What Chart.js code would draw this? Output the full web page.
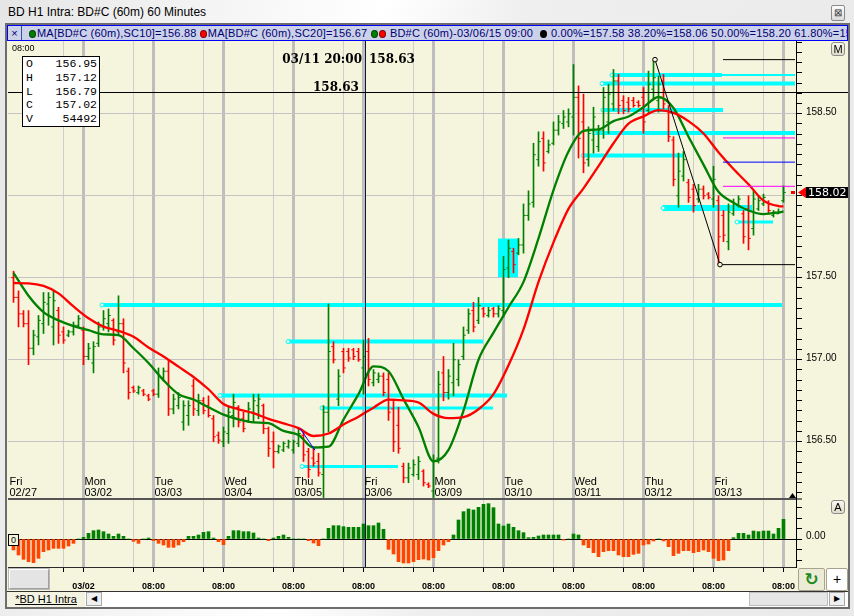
<!DOCTYPE html>
<html><head><meta charset="utf-8">
<script src="https://cdn.jsdelivr.net/npm/chart.js@4.4.1/dist/chart.umd.min.js"></script>
<style>
html,body{margin:0;padding:0}
body{width:854px;height:616px;overflow:hidden;position:relative;font-family:"Liberation Sans",Arial,sans-serif;
 background:linear-gradient(100deg,#e6e6e6 0%,#f6f6f6 25%,#ffffff 40%,#efefef 55%,#e9e9e9 100%)}
.abs{position:absolute}
#title{left:8px;top:5px;font-size:12px;color:#000;white-space:nowrap}
#close{left:831px;top:5px;width:12px;height:14px;border:1px solid #8a8a8a;border-radius:2px;background:linear-gradient(#fdfdfd,#dcdcdc);font-size:10px;line-height:14px;text-align:center;color:#333}
#frame{left:5px;top:23px;width:845px;height:586px;box-sizing:border-box;border:2px solid #6d6d6d;background:#f5f4dc}
#legend{left:7px;top:25px;width:841px;height:16px;box-sizing:border-box;border:1px solid #0000ff;background:#ccd1ea;
 font-size:11px;line-height:14px;color:#000070;white-space:nowrap;overflow:hidden;letter-spacing:0.2px}
#lx{display:inline-block;width:13px;text-align:center;border-right:1px solid #4050a0;margin-right:7px;color:#000070}
.dot{display:inline-block;width:7px;height:8px;border-radius:50%;vertical-align:-1px;margin-right:1px;box-sizing:border-box;border:1px solid rgba(0,0,0,0.5)}
.g{background:#008000}.r{background:#ff0000}.k{background:#000}
#c{left:8px;top:41px;background:#f5f4dc}
#tl{left:12px;top:43px;font-size:9px;color:#000}
#ohlc{left:22px;top:56px;width:78px;height:71px;box-sizing:border-box;border:1px solid #000;background:#fff;padding:0 2px 0 3px;
 font-family:"Liberation Mono",monospace;font-size:11.5px;line-height:13.8px;color:#000}
#ohlc div{display:flex;justify-content:space-between}
.big{font-family:"DejaVu Serif",serif;font-weight:bold;font-size:12px;color:#000;white-space:nowrap;line-height:14px}
.btn{width:12px;height:12px;border:1px solid #8c8c8c;border-radius:3px;background:linear-gradient(#faf9f0,#dedbc8);font-size:11px;line-height:12px;text-align:center;color:#000}
#zero{left:8px;top:534px;width:9px;height:10px;border:1px solid #000;font-size:9px;line-height:10px;text-align:center;background:#f5f4dc}
#lbox{left:9px;top:569px;width:40px;height:20px;box-sizing:border-box;border:1px solid #a0a0a0;border-top-color:#fff;border-left-color:#fff;background:#e4e4e4;outline:1px solid #b8b8b8}
#refresh{left:798px;top:568px;width:27px;height:23px;box-sizing:border-box;border:1px solid #a7a38c;border-radius:2px;background:#ecebd6;color:#1a8a1a;font-size:17px;line-height:21px;text-align:center;font-family:"DejaVu Sans",sans-serif;font-weight:bold}
#plus{left:826px;top:568px;width:22px;height:23px;box-sizing:border-box;border:1px solid #a7a38c;border-radius:2px;background:#fff;font-size:14px;line-height:21px;text-align:center}
#tabs{left:7px;top:591px;width:841px;height:16px;box-sizing:border-box;border-top:1px solid #333;background:#fff}
#tab{left:0px;top:0px;width:78px;height:15px;background:#f4f3e2;font-size:11px;line-height:15px;text-align:center;text-decoration:underline;color:#000}
.sb{top:0px;width:16px;height:14px;box-sizing:border-box;border:1px solid #a8a8a8;background:#f0f0f0;font-size:8px;line-height:12px;text-align:center;color:#000;font-family:"DejaVu Sans",sans-serif}
#thumb{left:742px;top:0px;width:79px;height:14px;box-sizing:border-box;border:1px solid #bdbdbd;background:#e6e6e6}
</style></head>
<body>
<div id="title" class="abs">BD H1 Intra: BD#C (60m) 60 Minutes</div>
<div id="close" class="abs">⊠</div>
<div id="frame" class="abs"></div>
<div id="legend" class="abs"><span id="lx">×</span><span class="dot g"></span>MA[BD#C (60m),SC10]=156.88 <span class="dot r"></span>MA[BD#C (60m),SC20]=156.67 <span class="dot g"></span><span class="dot r"></span> BD#C (60m)-03/06/15 09:00 &nbsp;<span class="dot k"></span> 0.00%=157.58 38.20%=158.06 50.00%=158.20 61.80%=158.35 100.00%=158.83</div>
<canvas id="c" class="abs" width="840" height="551"></canvas>
<div id="tl" class="abs">08:00</div>
<div id="ohlc" class="abs"><div><span>O</span><span>156.95</span></div><div><span>H</span><span>157.12</span></div><div><span>L</span><span>156.79</span></div><div><span>C</span><span>157.02</span></div><div><span>V</span><span>54492</span></div></div>
<div class="abs big" style="right:492px;top:52px">03/11 20:00</div>
<div class="abs big" style="left:369px;top:52px">158.63</div>
<div class="abs big" style="left:313px;top:80px">158.63</div>
<div class="abs btn" style="left:831px;top:42px">M</div>
<div class="abs btn" style="left:831px;top:500px">A</div>
<div id="zero" class="abs">0</div>
<div id="lbox" class="abs"></div>
<div id="refresh" class="abs">↻</div>
<div id="plus" class="abs">+</div>
<div id="tabs" class="abs">
  <div id="tab" class="abs">*BD H1 Intra</div>
  <div class="abs sb" style="left:79px">◀</div>
  <div id="thumb" class="abs"></div>
  <div class="abs sb" style="left:822px">▶</div>
</div>
<script>
// ---------- DATA ----------
const opens = [
157.50,157.38,157.28,157.22,157.07,157.14,157.22,157.34,157.20,157.30,
157.17,157.15,157.17,157.21,157.18,157.02,156.98,157.10,157.20,157.22,
157.24,157.17,157.22,156.93,156.83,156.80,156.81,156.78,156.81,156.79,
156.89,156.93,156.70,156.72,156.62,156.66,156.84,156.69,156.75,156.72,
156.64,156.54,156.50,156.55,156.66,156.71,156.64,156.63,156.68,156.72,
156.72,156.58,156.50,156.44,156.45,156.47,156.45,156.49,156.54,156.44,
156.40,156.38,156.30,156.68,157.08,156.76,157.05,157.05,157.06,157.05,
156.95,157.05,156.86,156.88,156.90,156.88,156.70,156.60,156.35,156.28,
156.30,156.30,156.32,156.24,156.20,156.40,156.92,156.80,156.86,156.88,
157.02,157.18,157.30,157.24,157.31,157.27,157.31,157.28,157.30,157.56,
157.66,157.65,157.70,157.88,157.96,158.22,158.35,158.27,158.32,158.40,
158.44,158.45,158.48,158.60,158.45,158.22,158.34,158.30,158.40,158.45,
158.56,158.70,158.58,158.57,158.58,158.57,158.60,158.52,158.65,158.58,
158.70,158.52,158.34,158.00,158.12,158.08,158.04,157.98,158.04,158.01,
157.98,157.97,157.88,157.72,157.89,157.94,157.89,157.92,157.80,157.92,
157.95,157.96,157.88,157.89,157.97];
const highs = [
157.54,157.42,157.30,157.30,157.18,157.27,157.41,157.41,157.42,157.32,
157.20,157.18,157.23,157.27,157.20,157.10,157.11,157.23,157.30,157.31,
157.25,157.39,157.25,156.95,156.84,156.84,156.82,156.79,156.82,156.95,
156.95,157.00,156.79,156.80,156.75,156.75,156.88,156.79,156.77,156.78,
156.66,156.56,156.59,156.72,156.79,156.72,156.68,156.74,156.79,156.79,
156.73,156.59,156.56,156.48,156.50,156.51,156.51,156.58,156.56,156.46,
156.46,156.43,156.72,157.34,157.11,156.94,157.07,157.07,157.07,157.07,
157.12,157.13,156.94,156.92,156.92,156.92,156.76,156.71,156.37,156.37,
156.39,156.41,156.33,156.25,156.42,156.93,157.02,156.94,157.10,157.00,
157.20,157.31,157.35,157.38,157.32,157.32,157.32,157.33,157.63,157.73,
157.68,157.74,157.95,158.03,158.32,158.39,158.39,158.34,158.45,158.49,
158.52,158.53,158.80,158.67,158.62,158.42,158.54,158.43,158.66,158.68,
158.77,158.74,158.61,158.60,158.60,158.58,158.66,158.76,158.83,158.73,
158.74,158.55,158.36,158.26,158.27,158.10,158.07,158.07,158.06,158.02,
158.18,158.00,157.91,157.95,157.98,158.00,157.91,158.00,158.03,158.00,
158.01,157.97,157.91,157.92,158.06];
const lows = [
157.35,157.20,157.20,156.97,157.03,157.09,157.16,157.21,157.09,157.10,
157.10,157.14,157.15,157.20,156.97,157.00,156.92,157.08,157.18,157.17,
157.09,157.15,156.92,156.76,156.80,156.79,156.78,156.75,156.78,156.77,
156.87,156.66,156.67,156.70,156.57,156.60,156.66,156.66,156.67,156.65,
156.50,156.49,156.47,156.49,156.59,156.59,156.56,156.62,156.62,156.64,
156.55,156.41,156.34,156.43,156.44,156.46,156.43,156.47,156.38,156.28,
156.35,156.29,156.16,156.56,156.98,156.72,156.92,156.99,157.00,156.99,
156.79,156.84,156.84,156.86,156.78,156.63,156.44,156.43,156.25,156.25,
156.29,156.27,156.23,156.22,156.16,156.37,156.75,156.76,156.78,156.84,
157.00,157.16,157.17,157.22,157.26,157.26,157.26,157.26,157.26,157.50,
157.53,157.64,157.65,157.85,157.93,158.18,158.15,158.26,158.31,158.37,
158.41,158.42,158.37,158.23,158.14,158.18,158.26,158.27,158.35,158.38,
158.52,158.50,158.50,158.51,158.54,158.54,158.38,158.50,158.59,158.51,
158.53,158.33,158.06,157.93,158.09,157.96,157.90,157.96,157.98,157.98,
157.93,157.58,157.72,157.67,157.88,157.93,157.71,157.67,157.76,157.91,
157.94,157.89,157.87,157.89,157.96];
const closes = [
157.38,157.28,157.22,157.07,157.15,157.24,157.35,157.38,157.36,157.15,
157.12,157.17,157.21,157.25,157.02,157.07,157.08,157.20,157.25,157.27,
157.12,157.22,156.98,156.80,156.81,156.83,156.79,156.76,156.79,156.90,
156.93,156.70,156.76,156.77,156.72,156.72,156.70,156.75,156.69,156.66,
156.53,156.51,156.56,156.68,156.74,156.62,156.58,156.70,156.75,156.76,
156.58,156.46,156.44,156.47,156.49,156.50,156.50,156.55,156.42,156.33,
156.37,156.31,156.68,157.05,157.00,156.90,156.95,157.01,157.02,157.00,
157.02,156.88,156.92,156.90,156.80,156.68,156.50,156.46,156.28,156.34,
156.36,156.38,156.25,156.23,156.38,156.85,156.80,156.90,157.00,156.97,
157.15,157.28,157.20,157.33,157.28,157.30,157.28,157.31,157.55,157.68,
157.58,157.70,157.88,157.95,158.25,158.33,158.20,158.31,158.40,158.45,
158.48,158.50,158.60,158.35,158.20,158.38,158.48,158.40,158.60,158.62,
158.70,158.55,158.52,158.53,158.55,158.55,158.45,158.68,158.72,158.68,
158.56,158.36,158.10,158.15,158.22,157.99,157.94,158.04,158.00,157.99,
158.10,157.75,157.76,157.90,157.95,157.98,157.75,157.74,157.98,157.97,
157.99,157.91,157.90,157.90,158.02];
const osc = [
-0.033,-0.048,-0.061,-0.068,-0.071,-0.058,-0.038,-0.033,-0.028,-0.028,
-0.028,-0.021,-0.013,0,0.005,0.017,0.025,0.027,0.022,0.015,
0.008,0.015,0.008,0,-0.007,-0.013,0,0.003,-0.005,-0.013,
-0.018,-0.025,-0.025,-0.018,-0.008,0.008,0.008,0.012,0.020,0.022,
0.003,-0.008,-0.017,0.008,0.025,0.025,0.022,0.022,0.018,0.003,
0,-0.005,0.003,0.008,0.012,0.005,0,0,0,-0.005,
-0.012,-0.020,0,0.032,0.040,0.040,0.037,0.035,0.035,0.035,
0.045,0.040,0.040,0.048,0.029,-0.031,-0.045,-0.068,-0.072,-0.072,
-0.068,-0.062,-0.060,-0.063,-0.056,-0.035,-0.018,-0.008,0.012,0.057,
0.082,0.090,0.087,0.095,0.104,0.106,0.094,0.045,0.039,0.045,
0.035,0.025,0.019,0.004,0.005,0.009,0.012,0.012,0.012,0.012,
-0.003,0,0.015,0.012,-0.018,-0.026,-0.041,-0.053,-0.038,-0.035,
-0.035,-0.048,-0.053,-0.053,-0.046,-0.043,-0.018,-0.015,-0.006,0,
-0.006,-0.023,-0.050,-0.043,-0.035,-0.035,-0.041,-0.038,-0.033,-0.038,
-0.058,-0.065,-0.063,-0.035,0.004,0.017,0.017,0.012,0.024,0.022,
0.024,0.024,0.015,0.032,0.059];
const maIdx = [0,3,6,9,12,15,18,21,24,27,30,33,36,39,42,45,48,51,54,57,60,63,66,69,72,75,78,81,84,87,90,93,96,99,102,105,108,111,114,117,120,123,126,129,132,135,138,141,144,147,150,153,154];
const ma10 = [157.53,157.39,157.29,157.24,157.205,157.18,157.155,157.15,157.07,156.98,156.875,156.79,156.758,156.71,156.665,156.637,156.618,156.613,156.566,156.541,156.465,156.47,156.635,156.79,156.96,156.93,156.76,156.59,156.38,156.45,156.69,157.00,157.165,157.32,157.475,157.74,158.035,158.27,158.395,158.405,158.455,158.483,158.54,158.602,158.535,158.36,158.19,158.024,157.958,157.91,157.888,157.898,157.904];
const ma20 = [157.468,157.466,157.45,157.405,157.325,157.253,157.202,157.176,157.14,157.075,157.02,156.958,156.895,156.82,156.73,156.698,156.674,156.64,156.612,156.583,156.535,156.55,156.605,156.653,156.708,156.757,156.752,156.739,156.67,156.644,156.65,156.698,156.79,156.966,157.185,157.475,157.716,157.92,158.045,158.18,158.32,158.44,158.484,158.522,158.505,158.455,158.38,158.265,158.163,158.07,157.97,157.937,157.935];
// support / resistance levels (price, first bar, last bar)
const levelPrice = [157.334,157.111,156.782,156.706,156.349,158.736,158.736,158.684,158.523,158.383,158.245,157.925,157.840];
const levelStart = [17.7,54.9,41.3,61.7,57.7,119.7,141.7,117.7,117.9,116.1,113.9,129.9,144.7];
const levelEnd   = [153.7,93.9,98.7,95.9,76.9,141.7,156.3,156.3,141.9,156.3,133.9,147.7,151.9];
const boxBars = [96.9,100.9], boxPrices = [157.503,157.736];
// fibonacci retracement
const fibPct = ['0.00%','38.20%','50.00%','61.80%','100.00%'];
const fibPrice = [157.58,158.0575,158.205,158.3525,158.83];
const fibStart = [141.3,141.9,141.9,141.9,141.9];
const fibEnd = 156.3;
const swingBars = [128.3,141.3], swingPrices = [158.83,157.58];
const trendBars = [57.3,60.3], trendPrices = [156.582,156.448];
const crossBar = 70.3, crossPrice = 158.63;
// axis labels
const dayBars  = [-1,14,28,42,56,70,84,98,112,126,140];
const dayNames = ['Fri','Mon','Tue','Wed','Thu','Fri','Mon','Tue','Wed','Thu','Fri'];
const dayDates = ['02/27','03/02','03/03','03/04','03/05','03/06','03/09','03/10','03/11','03/12','03/13'];
const minorBars = [10,24,38,52,66,80,94,108,122,136,150];
const majorBars = [14,28,42,56,70,84,98,112,126,140,154];
const majorLabels = ['03/02','08:00','08:00','08:00','08:00','08:00','08:00','08:00','08:00','08:00','08:00'];

// ---------- STYLES ----------
const CREAM = '#f5f4dc', UP = '#008000', DN = '#ff0000', OSC_DN = '#ff4500', CYAN = '#00ffff';
const levelWidth = [4,4,4,3,3,4,2,4,4,4,4,6,3];
const levelMark  = [1,1,1,1,1,1,0,1,1,1,1,1,1];
const fibColor = ['#000000','#ff00ff','#0000ff','#ff00ff','#000000'];

Chart.defaults.font.family = '"Liberation Sans", Arial, sans-serif';
const barCol = closes.map((c,i)=> c >= opens[i] ? UP : DN);
const idx = closes.map((c,i)=>i);

const datasets = [];
levelPrice.forEach((p,k)=>{
  datasets.push({type:'line', yAxisID:'y', order:10,
    data:[{x:levelStart[k],y:p},{x:levelEnd[k],y:p}],
    borderColor:CYAN, borderWidth:levelWidth[k],
    pointRadius:[levelMark[k]?2:0,0], pointBorderWidth:1, pointBorderColor:CYAN, pointBackgroundColor:CREAM});
});
datasets.push({type:'line', yAxisID:'y', order:10,
  data:[{x:boxBars[0],y:boxPrices[1]},{x:boxBars[1],y:boxPrices[1]}],
  borderColor:CYAN, borderWidth:1, pointRadius:0, backgroundColor:CYAN, fill:{target:{value:boxPrices[0]}}});
datasets.push({type:'bar', yAxisID:'y', order:6, grouped:false, barThickness:1,
  data: idx.map(i=>({x:i, y:[lows[i], highs[i]]})), backgroundColor: barCol});
datasets.push({type:'line', yAxisID:'y', order:5, showLine:false,
  data: idx.map(i=>({x:i-0.25, y:opens[i]})), pointStyle:'line', pointRadius:1, pointBorderWidth:1,
  pointBorderColor:barCol, borderColor:barCol});
datasets.push({type:'line', yAxisID:'y', order:5, showLine:false,
  data: idx.map(i=>({x:i+0.25, y:closes[i]})), pointStyle:'line', pointRadius:1, pointBorderWidth:1,
  pointBorderColor:barCol, borderColor:barCol});
datasets.push({type:'line', yAxisID:'y', order:3, data: maIdx.map((x,k)=>({x, y:ma20[k]})),
  borderColor:'#ff0000', borderWidth:2.3, pointRadius:0, cubicInterpolationMode:'monotone'});
datasets.push({type:'line', yAxisID:'y', order:3, data: maIdx.map((x,k)=>({x, y:ma10[k]})),
  borderColor:'#008000', borderWidth:2.3, pointRadius:0, cubicInterpolationMode:'monotone'});
fibPrice.forEach((p,k)=>{
  datasets.push({type:'line', yAxisID:'y', order:2, data:[{x:fibStart[k],y:p},{x:fibEnd,y:p}],
    borderColor:fibColor[k], borderWidth:1, pointRadius:0});
});
datasets.push({type:'line', yAxisID:'y', order:1,
  data:[{x:swingBars[0],y:swingPrices[0]},{x:swingBars[1],y:swingPrices[1]}],
  borderColor:'#000', borderWidth:1, pointRadius:2.3, pointBorderWidth:1, pointBorderColor:'#000', pointBackgroundColor:CREAM});
datasets.push({type:'line', yAxisID:'y', order:1,
  data:[{x:trendBars[0],y:trendPrices[0]},{x:trendBars[1],y:trendPrices[1]}],
  borderColor:'#0000ff', borderWidth:1, pointRadius:0});
datasets.push({type:'bar', yAxisID:'yo', order:6, grouped:false, barThickness:3,
  data: idx.map(i=>({x:i, y:osc[i]})), backgroundColor: osc.map(v=> v>=0 ? UP : OSC_DN)});

const isHalf = v => Math.abs(v*2 - Math.round(v*2)) < 1e-9;
const oscTicks = [-0.063,-0.0315,0,0.0315,0.063,0.0945,0.12];
const noPad = s => { s.paddingTop = 0; s.paddingBottom = 0; s.paddingLeft = 0; s.paddingRight = 0; };

const overlay = {
  id:'overlay',
  afterDatasetsDraw(chart){
    const {ctx, chartArea:a} = chart, x = chart.scales.x, y = chart.scales.y;
    ctx.save();
    // crosshair
    const cx = Math.round(x.getPixelForValue(crossBar)) + 0.5;
    ctx.lineWidth = 1; ctx.strokeStyle = '#14143c';
    ctx.beginPath(); ctx.moveTo(cx, a.top); ctx.lineTo(cx, a.bottom); ctx.stroke();
    const cy = Math.round(y.getPixelForValue(crossPrice)) + 0.5;
    ctx.strokeStyle = '#000';
    ctx.beginPath(); ctx.moveTo(a.left, cy); ctx.lineTo(chart.width, cy); ctx.stroke();
    // day labels
    ctx.fillStyle = '#000'; ctx.font = '11px "Liberation Sans", Arial'; ctx.textBaseline = 'middle'; ctx.textAlign = 'left';
    dayBars.forEach((d,k)=>{
      const px = x.getPixelForValue(d) + 1;
      ctx.fillText(dayNames[k], px, y.bottom - 17.5);
      ctx.fillText(dayDates[k], px, y.bottom - 6);
    });
    // last price marker
    const last = closes[closes.length-1];
    const ly = Math.round(y.getPixelForValue(last));
    ctx.fillStyle = '#ff0000';
    ctx.fillRect(a.right - 5, ly - 1, 4, 3);
    ctx.beginPath(); ctx.moveTo(a.right + 2, ly + 0.5); ctx.lineTo(a.right + 10, ly - 5); ctx.lineTo(a.right + 10, ly + 6); ctx.closePath(); ctx.fill();
    ctx.fillStyle = '#000'; ctx.fillRect(a.right + 10, ly - 5, chart.width - a.right - 10, 11);
    ctx.fillStyle = '#fff'; ctx.font = '11px "DejaVu Sans", sans-serif';
    ctx.fillText(last.toFixed(2), a.right + 12, ly + 1);
    // small scroll marker
    ctx.fillStyle = '#000';
    ctx.beginPath(); ctx.moveTo(a.right - 3.5, y.bottom - 6); ctx.lineTo(a.right, y.bottom - 1); ctx.lineTo(a.right - 7, y.bottom - 1); ctx.closePath(); ctx.fill();
    ctx.restore();
  }
};

new Chart(document.getElementById('c'), {
  type:'bar',
  data:{datasets},
  plugins:[overlay],
  options:{
    responsive:false, animation:false, events:[],
    layout:{padding:0, autoPadding:false},
    plugins:{legend:{display:false}, tooltip:{enabled:false}},
    scales:{
      x:{type:'linear', min:-1.1, max:156.5, offset:false,
        afterBuildTicks:s=>{ s.ticks = minorBars.concat(majorBars).sort((a,b)=>a-b).map(v=>({value:v})); },
        afterFit:s=>{ s.height = 25; noPad(s); },
        grid:{offset:false, drawTicks:true, tickLength:5, tickWidth:1, tickColor:'#000',
          color:c=> majorBars.includes(c.tick && c.tick.value) ? '#bebebe' : '#cdcdcd',
          lineWidth:c=> majorBars.includes(c.tick && c.tick.value) ? 3 : 1},
        border:{display:true, color:'#2a2a2a', width:1},
        ticks:{autoSkip:false, maxRotation:0, padding:9, color:'#000', font:{size:9, weight:'bold'},
          callback:v=>{ const k = majorBars.indexOf(v); return k>=0 ? majorLabels[k] : ''; }}
      },
      y:{type:'linear', position:'right', stack:'panes', stackWeight:458, min:156.1509, max:158.9436,
        afterBuildTicks:s=>{ const t=[]; for(let k=2499;k<=2543;k++) t.push({value:k/16}); s.ticks=t; },
        afterFit:s=>{ s.width = 52; noPad(s); },
        grid:{drawTicks:true, tickLength:6, tickWidth:1, tickColor:'#000',
          color:c=> (c.tick && isHalf(c.tick.value)) ? '#c4c4c4' : 'rgba(0,0,0,0)', lineWidth:1},
        border:{display:true, color:'#000', width:1},
        ticks:{autoSkip:false, padding:4, labelOffset:-1, color:'#000', font:{size:10},
          callback:v=> isHalf(v) ? v.toFixed(2) : ''}
      },
      yo:{type:'linear', position:'right', stack:'panes', stackWeight:68, min:-0.084, max:0.12,
        afterBuildTicks:s=>{ s.ticks = oscTicks.map(v=>({value:v})); },
        afterFit:s=>{ s.width = 52; noPad(s); },
        grid:{drawTicks:true, tickLength:6, tickWidth:1, tickColor:'#000',
          color:c=>{ const v = c.tick && c.tick.value; return v===0 ? '#000' : (v===0.12 ? '#555' : 'rgba(0,0,0,0)'); },
          lineWidth:c=> (c.tick && c.tick.value===0.12) ? 2 : 1},
        border:{display:true, color:'#000', width:1},
        ticks:{autoSkip:false, padding:4, labelOffset:-3, color:'#000', font:{size:10},
          callback:v=> v===0 ? '0.00' : ''}
      }
    }
  }
});
</script>
</body></html>
